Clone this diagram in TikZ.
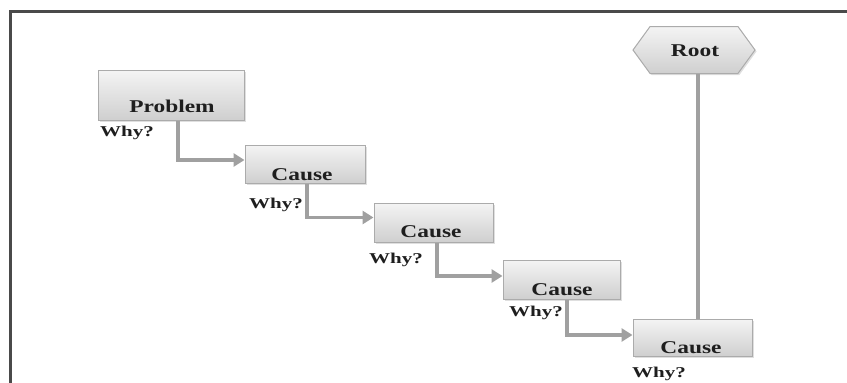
\documentclass[tikz,border=0pt]{standalone}
\usepackage{fontspec}
\setmainfont{Liberation Serif}
\usetikzlibrary{arrows.meta,shadows,shapes.symbols}
\definecolor{boxtop}{HTML}{F4F4F4}
\definecolor{boxbot}{HTML}{CFCFCF}
\definecolor{boxline}{HTML}{ABABAB}
\definecolor{connc}{HTML}{A0A0A0}
\definecolor{framec}{HTML}{4A4A4A}
\definecolor{txtc}{HTML}{1E1E1E}
\begin{document}
\begin{tikzpicture}[x=1pt,y=-1pt,
  box/.style={draw=boxline, line width=1pt, top color=boxtop, bottom color=boxbot,
    drop shadow={opacity=0.25,shadow xshift=1.5pt,shadow yshift=-1.5pt}, inner sep=0pt},
  boxtext/.style={anchor=base, text=txtc, font=\fontsize{18}{20}\selectfont\bfseries, inner sep=0pt},
  whytext/.style={anchor=base west, text=txtc, font=\fontsize{15}{17}\selectfont\bfseries, inner sep=0pt},
  conn/.style={draw=connc, line width=3.6pt, -{Triangle[length=11pt,width=13pt]}},
  link/.style={draw=connc, line width=3.6pt},
  frameline/.style={draw=framec, line width=3pt}
]
\useasboundingbox (0,0) rectangle (847,383);
\coordinate (fa) at (10,383);
\coordinate (fb) at (10,11);
\coordinate (fc) at (847,11);
\draw[frameline] (fa) -- (fb) -- (fc);

% boxes
\node[box, minimum width=146pt, minimum height=50pt] (p) at (171,95) {};
\node[box, minimum width=120pt, minimum height=38pt] (c1) at (305,164) {};
\node[box, minimum width=119pt, minimum height=39pt] (c2) at (433.5,222.5) {};
\node[box, minimum width=117pt, minimum height=39pt] (c3) at (561.5,279.5) {};
\node[box, minimum width=119pt, minimum height=37pt] (c4) at (692.5,337.5) {};
\node[box, signal, signal to=west and east, signal pointer angle=108,
      minimum width=122pt, minimum height=47pt] (root) at (694,50) {};

% texts
\node[boxtext] (tp) at (172,112) {\scalebox{1.3}[1]{Problem}};
\node[boxtext] (t1) at (302,180) {\scalebox{1.3}[1]{Cause}};
\node[boxtext] (t2) at (431,237) {\scalebox{1.3}[1]{Cause}};
\node[boxtext] (t3) at (562,295) {\scalebox{1.3}[1]{Cause}};
\node[boxtext] (t4) at (691,353) {\scalebox{1.3}[1]{Cause}};
\node[boxtext] (tr) at (695,56) {\scalebox{1.3}[1]{Root}};

\node[whytext] (w0) at (100,136) {\scalebox{1.4}[1]{Why?}};
\node[whytext] (w1) at (249,208) {\scalebox{1.4}[1]{Why?}};
\node[whytext] (w2) at (369,263) {\scalebox{1.4}[1]{Why?}};
\node[whytext] (w3) at (509,316) {\scalebox{1.4}[1]{Why?}};
\node[whytext] (w4) at (632,377) {\scalebox{1.4}[1]{Why?}};

% connectors
\draw[conn] ([xshift=7pt]p.south) |- ([yshift=4pt]c1.west);
\draw[conn] ([xshift=2pt]c1.south) |- ([yshift=5pt]c2.west);
\draw[conn] ([xshift=3.5pt]c2.south) |- ([yshift=3.5pt]c3.west);
\draw[conn] ([xshift=5.5pt]c3.south) |- ([yshift=2.5pt]c4.west);
\draw[link] ([xshift=4pt]root.south) -- ([xshift=4pt]root.south |- c4.north);
\end{tikzpicture}
\end{document}
